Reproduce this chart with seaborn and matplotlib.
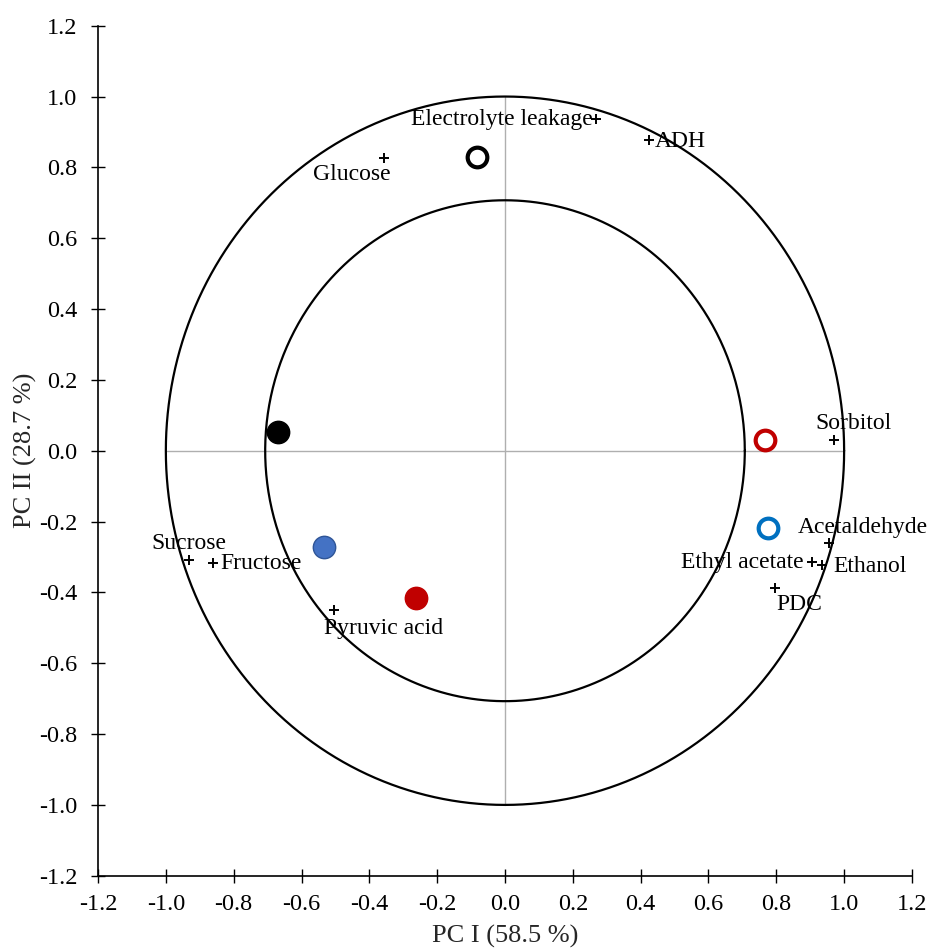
import numpy as np
import pandas as pd
import matplotlib
matplotlib.use("Agg")
import matplotlib.pyplot as plt
import seaborn as sns

# Sample scores (PC I, PC II) with their marker fill and edge colours
score_x = [-0.083, -0.670, -0.535, -0.263, 0.767, 0.776]
score_y = [0.829, 0.053, -0.272, -0.416, 0.030, -0.218]
score_face = ["white", "black", "#4472C4", "#C00000", "white", "white"]
score_edge = ["black", "black", "#2F5597", "#C00000", "#C00000", "#0070C0"]

# Variable loadings
var_names = ["Electrolyte leakage", "ADH", "Glucose", "Sorbitol", "Sucrose",
             "Fructose", "Pyruvic acid", "Acetaldehyde", "Ethyl acetate",
             "Ethanol", "PDC"]
var_x = [0.267, 0.426, -0.358, 0.971, -0.932, -0.861, -0.505, 0.954, 0.906, 0.936, 0.795]
var_y = [0.936, 0.877, 0.826, 0.030, -0.309, -0.317, -0.450, -0.260, -0.315, -0.323, -0.388]

# Label placement: (dx, dy) in points and horizontal alignment
label_place = {
    "Electrolyte leakage": (-2, 0, "right"),
    "ADH": (4, -1, "left"),
    "Glucose": (5, -12, "right"),
    "Sorbitol": (14, 12, "center"),
    "Sucrose": (0, 12, "center"),
    "Fructose": (5, 0, "left"),
    "Pyruvic acid": (-7, -13, "left"),
    "Acetaldehyde": (-22, 11, "left"),
    "Ethyl acetate": (-6, 0, "right"),
    "Ethanol": (8, -1, "left"),
    "PDC": (1, -12, "left"),
}

x_ticks = [-1.2, -1.0, -0.8, -0.6, -0.4, -0.2, 0.0, 0.2, 0.4, 0.6, 0.8, 1.0, 1.2]
y_ticks = x_ticks

sns.set_theme(style="ticks")
plt.rcParams["font.family"] = ["Liberation Serif", "DejaVu Serif"]

fig = plt.figure(figsize=(9.3, 9.52), dpi=100)
ax = fig.add_axes([0.1054, 0.0801, 0.8752, 0.8929])

# Correlation circles (r = 1 and r = sqrt(0.5))
theta = np.linspace(0, 2 * np.pi, 721)
for r in (1.0, np.sqrt(0.5)):
    ax.plot(r * np.cos(theta), r * np.sin(theta), color="black", lw=1.6, zorder=2)

# Gray reference axes through the origin
ax.plot([-1, 1], [0, 0], color="#AFAFAF", lw=1.0, zorder=1)
ax.plot([0, 0], [-1, 1], color="#AFAFAF", lw=1.0, zorder=1)

# Variables as crosses
var_df = pd.DataFrame({"x": var_x, "y": var_y, "name": var_names})
sns.scatterplot(data=var_df, x="x", y="y", marker="+", s=50, color="black",
                linewidth=1.4, ax=ax, zorder=4, legend=False)
for name, x, y in zip(var_names, var_x, var_y):
    dx, dy, ha = label_place[name]
    ax.annotate(name, (x, y), xytext=(dx, dy), textcoords="offset points",
                ha=ha, va="center", fontsize=17, color="black", zorder=5)

# Sample scores
score_df = pd.DataFrame({"x": score_x, "y": score_y})
for i in range(len(score_df)):
    lw = 3.0 if score_face[i] == "white" else 1.0
    sz = 200 if score_face[i] == "white" else 260
    sns.scatterplot(data=score_df.iloc[[i]], x="x", y="y", s=sz,
                    color=score_face[i], edgecolor=score_edge[i],
                    linewidth=lw, ax=ax, zorder=6, legend=False)

ax.set_xlim(-1.2, 1.2)
ax.set_ylim(-1.2, 1.2)
ax.set_xticks(x_ticks)
ax.set_yticks(y_ticks)
ax.set_xticklabels([f"{t:.1f}" for t in x_ticks])
ax.set_yticklabels([f"{t:.1f}" for t in y_ticks])
ax.tick_params(direction="inout", length=10, width=1.0, labelsize=17.5,
               colors="black")
ax.tick_params(axis="y", pad=10)
ax.tick_params(axis="x", pad=8)
for side in ("top", "right"):
    ax.spines[side].set_visible(False)
for side in ("left", "bottom"):
    ax.spines[side].set_linewidth(1.2)
    ax.spines[side].set_color("black")

ax.set_xlabel("PC I (58.5 %)", fontsize=19, labelpad=7)
ax.set_ylabel("PC II (28.7 %)", fontsize=19, labelpad=1)
ax.set_facecolor("white")
fig.patch.set_facecolor("white")

fig.savefig("out.png", dpi=100, facecolor="white")
